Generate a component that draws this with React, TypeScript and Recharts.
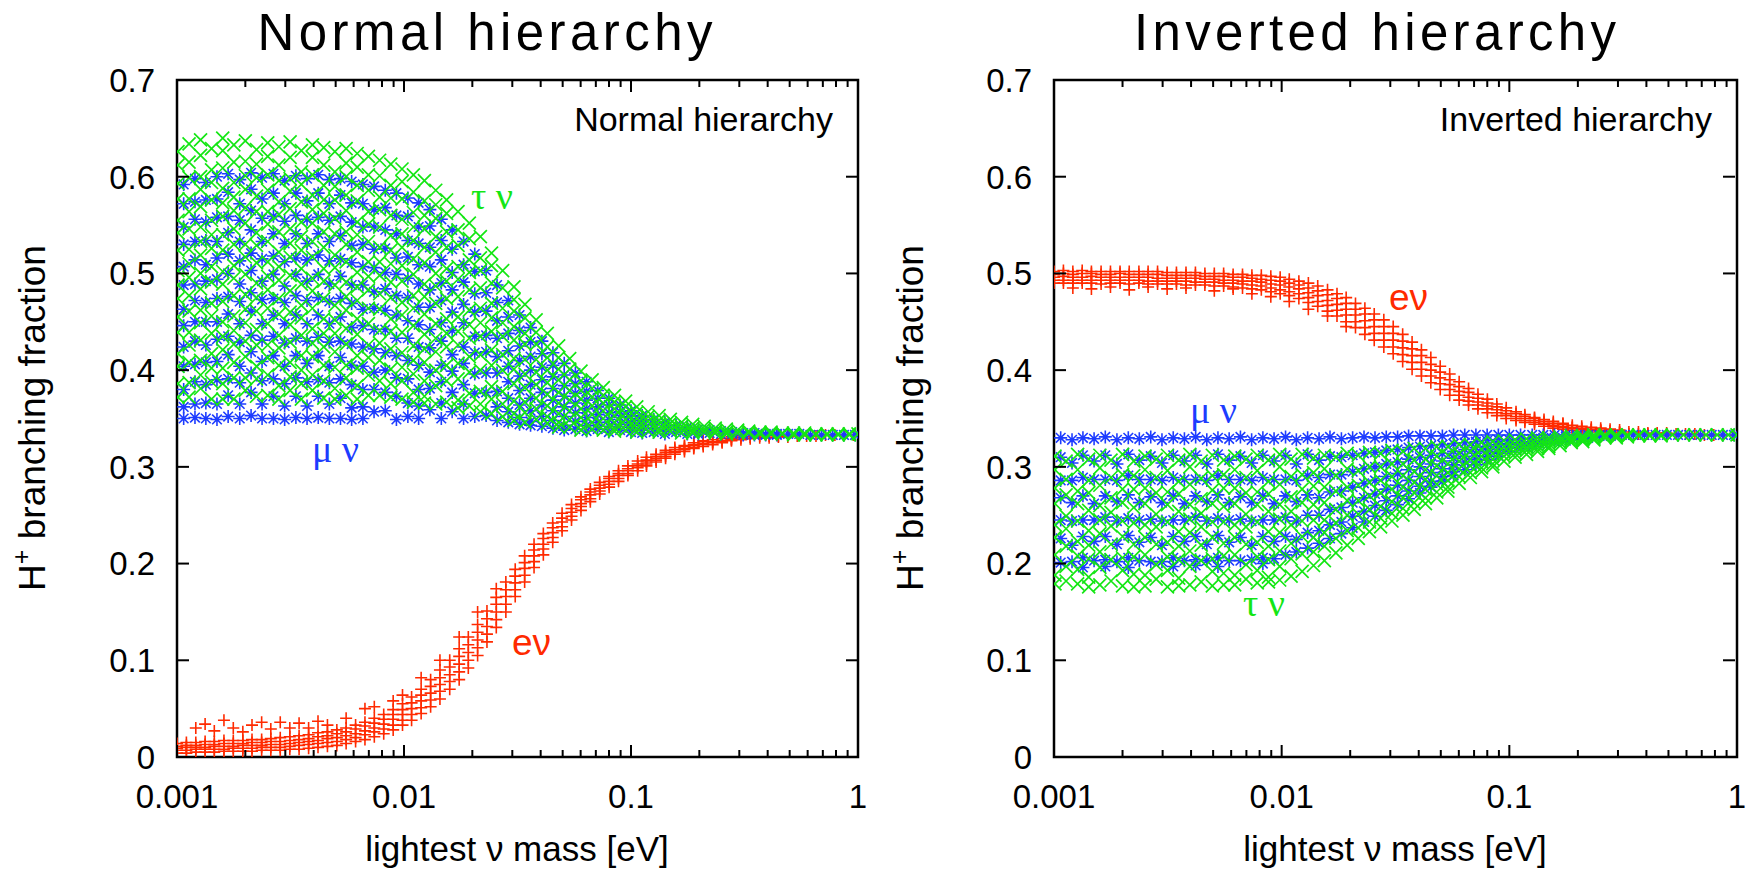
import { ScatterChart, Scatter, XAxis, YAxis, ReferenceArea } from 'recharts';

type Col = [number, number[]];

const RED = '#ff2a00';
const BLUE = '#1d3cff';
const GREEN = '#14e614';
const FONT = '"Liberation Sans", Arial, Helvetica, sans-serif';
const SERIF = '"Liberation Serif", "DejaVu Serif", serif';

// ---------- Normal hierarchy: e nu (red +) ----------
const NH_E: Col[] = [
  [0.001, [0.004, 0.007, 0.009, 0.011, 0.014]], [0.0011, [0.004, 0.007, 0.01, 0.012, 0.015]],
  [0.00121, [0.005, 0.008, 0.01, 0.012, 0.015, 0.03]], [0.00133, [0.005, 0.008, 0.01, 0.013, 0.016, 0.034]],
  [0.00146, [0.005, 0.008, 0.011, 0.013, 0.016, 0.027]], [0.00161, [0.006, 0.008, 0.011, 0.014, 0.017, 0.038]],
  [0.00177, [0.006, 0.009, 0.011, 0.014, 0.017, 0.03]], [0.00195, [0.006, 0.009, 0.012, 0.014, 0.017, 0.026]],
  [0.00214, [0.006, 0.009, 0.012, 0.015, 0.018, 0.033]], [0.00236, [0.007, 0.01, 0.012, 0.015, 0.018, 0.036]],
  [0.00259, [0.007, 0.01, 0.013, 0.016, 0.019, 0.029]], [0.00285, [0.007, 0.01, 0.013, 0.016, 0.02, 0.036]],
  [0.00314, [0.008, 0.011, 0.014, 0.017, 0.021, 0.03]], [0.00345, [0.008, 0.012, 0.015, 0.018, 0.022, 0.035]],
  [0.0038, [0.009, 0.013, 0.016, 0.019, 0.023, 0.03]], [0.00418, [0.01, 0.014, 0.017, 0.021, 0.025, 0.037]],
  [0.0046, [0.011, 0.015, 0.019, 0.022, 0.026, 0.033]], [0.00506, [0.012, 0.016, 0.02, 0.024, 0.028]],
  [0.00556, [0.014, 0.018, 0.022, 0.026, 0.03, 0.04]], [0.00612, [0.016, 0.02, 0.024, 0.029, 0.033]],
  [0.00673, [0.018, 0.023, 0.027, 0.032, 0.036, 0.05]], [0.0074, [0.021, 0.026, 0.03, 0.035, 0.04, 0.052]],
  [0.00814, [0.024, 0.029, 0.034, 0.039, 0.044]], [0.00896, [0.028, 0.033, 0.039, 0.044, 0.049, 0.058]],
  [0.00985, [0.033, 0.038, 0.044, 0.049, 0.055, 0.064]], [0.0108, [0.038, 0.044, 0.05, 0.056, 0.062]],
  [0.0119, [0.045, 0.051, 0.058, 0.064, 0.07, 0.082]], [0.0131, [0.052, 0.059, 0.066, 0.073, 0.08]],
  [0.0144, [0.06, 0.068, 0.075, 0.082, 0.09, 0.1]], [0.0159, [0.07, 0.078, 0.085, 0.093, 0.1]],
  [0.0175, [0.08, 0.088, 0.096, 0.104, 0.112, 0.124]], [0.0192, [0.092, 0.1, 0.108, 0.116, 0.124]],
  [0.0211, [0.105, 0.113, 0.121, 0.129, 0.137, 0.15]], [0.0232, [0.119, 0.127, 0.135, 0.143, 0.151]],
  [0.0255, [0.134, 0.142, 0.15, 0.158, 0.165, 0.174]], [0.0281, [0.15, 0.158, 0.166, 0.173, 0.181]],
  [0.0309, [0.166, 0.173, 0.18, 0.187, 0.194]], [0.034, [0.181, 0.188, 0.195, 0.201, 0.208]],
  [0.0374, [0.196, 0.202, 0.208, 0.214, 0.22]], [0.0411, [0.209, 0.215, 0.22, 0.226, 0.231]],
  [0.0452, [0.222, 0.227, 0.232, 0.237, 0.242]], [0.0497, [0.234, 0.238, 0.243, 0.247, 0.252]],
  [0.0547, [0.245, 0.249, 0.253, 0.257, 0.261]], [0.0602, [0.255, 0.259, 0.262, 0.266, 0.269]],
  [0.0662, [0.264, 0.267, 0.271, 0.274, 0.277]], [0.0728, [0.272, 0.275, 0.278, 0.281, 0.284]],
  [0.0801, [0.279, 0.282, 0.285, 0.288, 0.29]], [0.0881, [0.285, 0.288, 0.291, 0.293, 0.296]],
  [0.0969, [0.291, 0.293, 0.296, 0.298, 0.301]], [0.107, [0.296, 0.299, 0.301, 0.303, 0.306]],
  [0.117, [0.301, 0.303, 0.305, 0.307, 0.31]], [0.129, [0.305, 0.307, 0.309, 0.311, 0.313]],
  [0.142, [0.309, 0.311, 0.313, 0.315, 0.317]], [0.156, [0.313, 0.315, 0.316, 0.318, 0.32]],
  [0.172, [0.316, 0.318, 0.319, 0.321, 0.322]], [0.189, [0.319, 0.32, 0.322, 0.323, 0.325]],
  [0.208, [0.321, 0.323, 0.324, 0.326, 0.327]], [0.229, [0.323, 0.325, 0.326, 0.328]],
  [0.252, [0.325, 0.326, 0.327, 0.329]], [0.277, [0.327, 0.328, 0.329, 0.331]], [0.305, [0.328, 0.33, 0.332]],
  [0.335, [0.329, 0.331]], [0.369, [0.33, 0.332]], [0.406, [0.33, 0.332]], [0.446, [0.331, 0.332]],
  [0.491, [0.331, 0.333]], [0.54, [0.332]], [0.594, [0.332]], [0.653, [0.332]], [0.719, [0.333]],
  [0.791, [0.333]], [0.87, [0.333]], [0.957, [0.333]],
];

// ---------- Normal hierarchy: mu nu (blue *) ----------
const NH_MU: Col[] = [
  [0.00107, [0.592, 0.572, 0.548, 0.53, 0.507, 0.488, 0.463, 0.446, 0.424, 0.404, 0.38, 0.362, 0.35]],
  [0.0012, [0.598, 0.574, 0.556, 0.533, 0.514, 0.489, 0.472, 0.45, 0.43, 0.406, 0.388, 0.365, 0.351]],
  [0.00134, [0.594, 0.576, 0.553, 0.534, 0.509, 0.492, 0.47, 0.45, 0.426, 0.408, 0.385, 0.366, 0.35]],
  [0.0015, [0.6, 0.577, 0.558, 0.533, 0.516, 0.494, 0.474, 0.45, 0.432, 0.409, 0.39, 0.365, 0.349]],
  [0.00168, [0.603, 0.584, 0.559, 0.542, 0.52, 0.5, 0.476, 0.458, 0.435, 0.416, 0.391, 0.374, 0.352]],
  [0.00189, [0.597, 0.572, 0.555, 0.533, 0.513, 0.489, 0.471, 0.448, 0.429, 0.404, 0.387, 0.365, 0.35]],
  [0.00212, [0.604, 0.587, 0.565, 0.545, 0.521, 0.503, 0.48, 0.461, 0.436, 0.419, 0.397, 0.377, 0.353]],
  [0.00237, [0.599, 0.577, 0.557, 0.533, 0.515, 0.492, 0.473, 0.448, 0.431, 0.409, 0.389, 0.365, 0.35]],
  [0.00266, [0.603, 0.583, 0.559, 0.541, 0.518, 0.499, 0.474, 0.457, 0.435, 0.415, 0.391, 0.373, 0.35]],
  [0.00298, [0.596, 0.572, 0.554, 0.531, 0.512, 0.487, 0.47, 0.448, 0.428, 0.404, 0.386, 0.363, 0.349]],
  [0.00334, [0.601, 0.583, 0.56, 0.541, 0.516, 0.499, 0.477, 0.457, 0.433, 0.415, 0.392, 0.373, 0.351]],
  [0.00374, [0.598, 0.575, 0.556, 0.531, 0.514, 0.492, 0.472, 0.448, 0.43, 0.407, 0.388, 0.363, 0.35]],
  [0.00419, [0.602, 0.583, 0.558, 0.541, 0.519, 0.499, 0.475, 0.457, 0.434, 0.415, 0.39, 0.373, 0.351]],
  [0.00469, [0.597, 0.572, 0.555, 0.533, 0.513, 0.489, 0.471, 0.448, 0.429, 0.404, 0.387, 0.365, 0.35]],
  [0.00525, [0.598, 0.581, 0.559, 0.539, 0.515, 0.497, 0.474, 0.455, 0.43, 0.413, 0.391, 0.371, 0.35]],
  [0.00588, [0.595, 0.573, 0.553, 0.529, 0.511, 0.488, 0.469, 0.444, 0.427, 0.405, 0.385, 0.361, 0.349]],
  [0.00659, [0.592, 0.572, 0.548, 0.53, 0.507, 0.488, 0.463, 0.446, 0.424, 0.404, 0.38, 0.362, 0.35]],
  [0.00738, [0.59, 0.566, 0.548, 0.525, 0.506, 0.481, 0.464, 0.442, 0.422, 0.398, 0.38, 0.357]],
  [0.00827, [0.586, 0.568, 0.545, 0.526, 0.501, 0.484, 0.462, 0.442, 0.418, 0.4, 0.377, 0.358]],
  [0.00926, [0.583, 0.56, 0.541, 0.516, 0.499, 0.477, 0.457, 0.433, 0.415, 0.392, 0.373, 0.349]],
  [0.0104, [0.578, 0.559, 0.534, 0.517, 0.495, 0.475, 0.451, 0.433, 0.41, 0.391, 0.366, 0.352]],
  [0.0116, [0.573, 0.548, 0.531, 0.509, 0.489, 0.465, 0.447, 0.424, 0.405, 0.38, 0.363, 0.35]],
  [0.013, [0.566, 0.549, 0.527, 0.507, 0.483, 0.465, 0.442, 0.423, 0.398, 0.381, 0.359]],
  [0.0146, [0.556, 0.534, 0.514, 0.49, 0.472, 0.449, 0.43, 0.405, 0.388, 0.366, 0.35]],
  [0.0163, [0.545, 0.525, 0.501, 0.483, 0.46, 0.441, 0.416, 0.399, 0.377, 0.357]],
  [0.0183, [0.533, 0.509, 0.491, 0.468, 0.449, 0.424, 0.407, 0.385, 0.365, 0.35]],
  [0.0205, [0.52, 0.502, 0.479, 0.46, 0.435, 0.418, 0.396, 0.376, 0.352]],
  [0.023, [0.503, 0.48, 0.461, 0.436, 0.419, 0.397, 0.377, 0.353]],
  [0.0257, [0.488, 0.47, 0.451, 0.433, 0.414, 0.397, 0.378, 0.362, 0.348]],
  [0.0288, [0.472, 0.455, 0.438, 0.42, 0.404, 0.388, 0.371, 0.357, 0.346]],
  [0.0323, [0.457, 0.441, 0.425, 0.41, 0.394, 0.379, 0.364, 0.351, 0.344]],
  [0.0361, [0.444, 0.429, 0.414, 0.4, 0.385, 0.371, 0.358, 0.347, 0.343]],
  [0.0405, [0.43, 0.417, 0.403, 0.39, 0.377, 0.364, 0.352, 0.342]],
  [0.0453, [0.418, 0.405, 0.393, 0.381, 0.369, 0.358, 0.348, 0.34]],
  [0.0508, [0.407, 0.395, 0.384, 0.373, 0.362, 0.352, 0.343, 0.338]],
  [0.0569, [0.397, 0.386, 0.376, 0.366, 0.356, 0.347, 0.339]],
  [0.0637, [0.388, 0.378, 0.369, 0.36, 0.351, 0.343, 0.337]],
  [0.0713, [0.379, 0.371, 0.362, 0.354, 0.346, 0.339]],
  [0.0799, [0.371, 0.364, 0.356, 0.349, 0.342, 0.336]],
  [0.0895, [0.364, 0.357, 0.351, 0.344, 0.338]],
  [0.1, [0.358, 0.352, 0.346, 0.341, 0.336]],
  [0.112, [0.353, 0.348, 0.343, 0.338, 0.335]],
  [0.126, [0.349, 0.344, 0.34, 0.336]], [0.141, [0.346, 0.341, 0.337, 0.334]], [0.158, [0.343, 0.339, 0.336]],
  [0.177, [0.341, 0.337, 0.334]], [0.198, [0.339, 0.336, 0.334]], [0.222, [0.338, 0.335]], [0.249, [0.337, 0.334]],
  [0.279, [0.336, 0.334]], [0.312, [0.335, 0.333]], [0.35, [0.335, 0.333]], [0.392, [0.334, 0.333]],
  [0.439, [0.334, 0.333]], [0.492, [0.334]], [0.551, [0.334]], [0.617, [0.333]], [0.691, [0.333]],
  [0.774, [0.333]], [0.867, [0.333]], [0.97, [0.333]],
];

// ---------- Normal hierarchy: tau nu (green x) ----------
const NH_TAU: Col[] = [
  [0.00101, [0.626, 0.612, 0.593, 0.577, 0.555, 0.542, 0.524, 0.503, 0.488, 0.474, 0.455, 0.439, 0.417, 0.404, 0.386, 0.372]],
  [0.00113, [0.634, 0.615, 0.599, 0.577, 0.564, 0.546, 0.525, 0.51, 0.496, 0.477, 0.461, 0.439, 0.426, 0.408, 0.387, 0.372]],
  [0.00127, [0.638, 0.622, 0.6, 0.587, 0.569, 0.548, 0.533, 0.519, 0.5, 0.484, 0.462, 0.449, 0.431, 0.41, 0.395, 0.381]],
  [0.00142, [0.629, 0.607, 0.594, 0.576, 0.555, 0.54, 0.526, 0.507, 0.491, 0.469, 0.456, 0.438, 0.417, 0.402, 0.388, 0.37]],
  [0.00159, [0.64, 0.627, 0.609, 0.588, 0.573, 0.559, 0.54, 0.524, 0.502, 0.489, 0.471, 0.45, 0.435, 0.421, 0.402, 0.386, 0.37]],
  [0.00178, [0.633, 0.615, 0.594, 0.579, 0.565, 0.546, 0.53, 0.508, 0.495, 0.477, 0.456, 0.441, 0.427, 0.408, 0.392, 0.37]],
  [0.002, [0.637, 0.616, 0.601, 0.587, 0.568, 0.552, 0.53, 0.517, 0.499, 0.478, 0.463, 0.449, 0.43, 0.414, 0.392, 0.379]],
  [0.00224, [0.628, 0.613, 0.599, 0.58, 0.564, 0.542, 0.529, 0.511, 0.49, 0.475, 0.461, 0.442, 0.426, 0.404, 0.391, 0.373]],
  [0.00251, [0.635, 0.621, 0.602, 0.586, 0.564, 0.551, 0.533, 0.512, 0.497, 0.483, 0.464, 0.448, 0.426, 0.413, 0.395, 0.374]],
  [0.00281, [0.631, 0.612, 0.596, 0.574, 0.561, 0.543, 0.522, 0.507, 0.493, 0.474, 0.458, 0.436, 0.423, 0.405, 0.384, 0.37]],
  [0.00315, [0.636, 0.62, 0.598, 0.585, 0.567, 0.546, 0.531, 0.517, 0.498, 0.482, 0.46, 0.447, 0.429, 0.408, 0.393, 0.379]],
  [0.00353, [0.627, 0.605, 0.592, 0.574, 0.553, 0.538, 0.524, 0.505, 0.489, 0.467, 0.454, 0.436, 0.415, 0.4, 0.386, 0.37]],
  [0.00395, [0.633, 0.62, 0.602, 0.581, 0.566, 0.552, 0.533, 0.517, 0.495, 0.482, 0.464, 0.443, 0.428, 0.414, 0.395, 0.379]],
  [0.00443, [0.63, 0.612, 0.591, 0.576, 0.562, 0.543, 0.527, 0.505, 0.492, 0.474, 0.453, 0.438, 0.424, 0.405, 0.389, 0.371]],
  [0.00496, [0.626, 0.605, 0.59, 0.576, 0.557, 0.541, 0.519, 0.506, 0.488, 0.467, 0.452, 0.438, 0.419, 0.403, 0.381, 0.37]],
  [0.00556, [0.629, 0.614, 0.6, 0.581, 0.565, 0.543, 0.53, 0.512, 0.491, 0.476, 0.462, 0.443, 0.427, 0.405, 0.392, 0.374]],
  [0.00622, [0.624, 0.61, 0.591, 0.575, 0.553, 0.54, 0.522, 0.501, 0.486, 0.472, 0.453, 0.437, 0.415, 0.402, 0.384, 0.37]],
  [0.00697, [0.621, 0.602, 0.586, 0.564, 0.551, 0.533, 0.512, 0.497, 0.483, 0.464, 0.448, 0.426, 0.413, 0.395, 0.374]],
  [0.00781, [0.617, 0.601, 0.579, 0.566, 0.548, 0.527, 0.512, 0.498, 0.479, 0.463, 0.441, 0.428, 0.41, 0.389, 0.374]],
  [0.00875, [0.613, 0.591, 0.578, 0.56, 0.539, 0.524, 0.51, 0.491, 0.475, 0.453, 0.44, 0.422, 0.401, 0.386, 0.372]],
  [0.0098, [0.608, 0.595, 0.577, 0.556, 0.541, 0.527, 0.508, 0.492, 0.47, 0.457, 0.439, 0.418, 0.403, 0.389, 0.37]],
  [0.011, [0.602, 0.584, 0.563, 0.548, 0.534, 0.515, 0.499, 0.477, 0.464, 0.446, 0.425, 0.41, 0.396, 0.377, 0.367]],
  [0.0123, [0.596, 0.575, 0.56, 0.546, 0.527, 0.511, 0.489, 0.476, 0.458, 0.437, 0.422, 0.408, 0.389, 0.373, 0.366]],
  [0.0138, [0.586, 0.571, 0.557, 0.538, 0.522, 0.5, 0.487, 0.469, 0.448, 0.433, 0.419, 0.4, 0.384, 0.365]],
  [0.0154, [0.576, 0.562, 0.543, 0.527, 0.505, 0.492, 0.474, 0.453, 0.438, 0.424, 0.405, 0.389, 0.367]],
  [0.0173, [0.564, 0.545, 0.529, 0.507, 0.494, 0.476, 0.455, 0.44, 0.426, 0.407, 0.391, 0.369, 0.361]],
  [0.0194, [0.552, 0.536, 0.514, 0.501, 0.483, 0.462, 0.447, 0.433, 0.414, 0.398, 0.376, 0.363]],
  [0.0217, [0.538, 0.516, 0.503, 0.485, 0.464, 0.449, 0.435, 0.416, 0.4, 0.378, 0.365, 0.357]],
  [0.0243, [0.521, 0.508, 0.49, 0.469, 0.454, 0.44, 0.421, 0.405, 0.383, 0.37, 0.355]],
  [0.0272, [0.503, 0.485, 0.464, 0.449, 0.435, 0.416, 0.4, 0.378, 0.365, 0.352]],
  [0.0305, [0.486, 0.473, 0.461, 0.445, 0.431, 0.412, 0.401, 0.386, 0.368, 0.355, 0.348]],
  [0.0341, [0.468, 0.454, 0.438, 0.427, 0.411, 0.396, 0.382, 0.367, 0.356, 0.346]],
  [0.0382, [0.452, 0.439, 0.427, 0.411, 0.398, 0.385, 0.371, 0.36, 0.349]],
  [0.0428, [0.438, 0.424, 0.413, 0.4, 0.387, 0.375, 0.363, 0.352, 0.345]],
  [0.048, [0.425, 0.413, 0.401, 0.39, 0.377, 0.366, 0.355, 0.346, 0.341]],
  [0.0537, [0.412, 0.401, 0.39, 0.379, 0.369, 0.358, 0.349, 0.341]],
  [0.0602, [0.399, 0.389, 0.379, 0.37, 0.36, 0.351, 0.343, 0.338]],
  [0.0674, [0.39, 0.381, 0.372, 0.363, 0.354, 0.346, 0.339]],
  [0.0755, [0.382, 0.374, 0.366, 0.358, 0.35, 0.343, 0.338]],
  [0.0846, [0.374, 0.367, 0.36, 0.353, 0.346, 0.34, 0.337]],
  [0.0947, [0.368, 0.362, 0.355, 0.349, 0.343, 0.338]],
  [0.106, [0.362, 0.356, 0.35, 0.345, 0.34, 0.336]],
  [0.119, [0.357, 0.352, 0.347, 0.342, 0.337]],
  [0.133, [0.353, 0.348, 0.344, 0.339, 0.336]],
  [0.149, [0.349, 0.345, 0.341, 0.337]], [0.167, [0.346, 0.342, 0.339, 0.335]], [0.187, [0.344, 0.34, 0.337, 0.335]],
  [0.21, [0.342, 0.339, 0.336]], [0.235, [0.34, 0.337, 0.335]], [0.263, [0.339, 0.336, 0.334]],
  [0.295, [0.338, 0.335]], [0.33, [0.337, 0.335]], [0.37, [0.336, 0.334]], [0.414, [0.336, 0.334]],
  [0.464, [0.335, 0.334]], [0.52, [0.335, 0.333]], [0.582, [0.335, 0.333]], [0.652, [0.334, 0.333]],
  [0.73, [0.334, 0.333]], [0.818, [0.334, 0.333]], [0.916, [0.334, 0.333]], [1.0, [0.334]],
];

// ---------- Inverted hierarchy: e nu (red +) ----------
const IH_E: Col[] = [
  [0.001, [0.49, 0.493, 0.496, 0.499, 0.502]], [0.0011, [0.49, 0.493, 0.497, 0.5, 0.503]],
  [0.00121, [0.49, 0.493, 0.496, 0.499, 0.502, 0.485]], [0.00133, [0.49, 0.493, 0.496, 0.5, 0.503]],
  [0.00146, [0.49, 0.493, 0.497, 0.5, 0.502, 0.484]], [0.00161, [0.489, 0.493, 0.496, 0.499, 0.502]],
  [0.00177, [0.49, 0.493, 0.496, 0.499, 0.502, 0.486]], [0.00195, [0.49, 0.493, 0.496, 0.5, 0.502]],
  [0.00214, [0.489, 0.493, 0.496, 0.499, 0.502, 0.483]], [0.00236, [0.49, 0.493, 0.496, 0.499, 0.502]],
  [0.00259, [0.489, 0.492, 0.496, 0.499, 0.502, 0.486]], [0.00285, [0.489, 0.492, 0.495, 0.499, 0.502]],
  [0.00314, [0.489, 0.492, 0.495, 0.498, 0.501, 0.484]], [0.00345, [0.489, 0.492, 0.495, 0.498, 0.501]],
  [0.0038, [0.488, 0.492, 0.495, 0.498, 0.501, 0.485]], [0.00418, [0.488, 0.491, 0.495, 0.498, 0.501]],
  [0.0046, [0.488, 0.491, 0.494, 0.497, 0.5]], [0.00506, [0.487, 0.491, 0.494, 0.497, 0.5, 0.482]],
  [0.00556, [0.487, 0.49, 0.493, 0.497, 0.5]], [0.00612, [0.486, 0.49, 0.493, 0.496, 0.499, 0.484]],
  [0.00673, [0.485, 0.489, 0.492, 0.496, 0.499]], [0.0074, [0.484, 0.488, 0.492, 0.495, 0.498, 0.479]],
  [0.00814, [0.483, 0.487, 0.491, 0.494, 0.498]], [0.00896, [0.481, 0.485, 0.489, 0.493, 0.497, 0.476]],
  [0.00985, [0.479, 0.483, 0.488, 0.492, 0.496]], [0.0108, [0.477, 0.481, 0.486, 0.49, 0.494, 0.471]],
  [0.0119, [0.474, 0.479, 0.484, 0.488, 0.492]], [0.0131, [0.47, 0.475, 0.48, 0.485, 0.49, 0.463]],
  [0.0144, [0.466, 0.471, 0.477, 0.482, 0.487]], [0.0159, [0.461, 0.467, 0.472, 0.478, 0.483, 0.456]],
  [0.0175, [0.456, 0.462, 0.468, 0.474, 0.479]], [0.0192, [0.45, 0.457, 0.463, 0.469, 0.475, 0.445]],
  [0.0211, [0.444, 0.45, 0.457, 0.463, 0.469]], [0.0232, [0.437, 0.444, 0.451, 0.458, 0.464]],
  [0.0255, [0.431, 0.438, 0.445, 0.452, 0.458]], [0.0281, [0.424, 0.431, 0.438, 0.445, 0.452]],
  [0.0309, [0.417, 0.424, 0.431, 0.438, 0.445]], [0.034, [0.409, 0.416, 0.423, 0.43, 0.437]],
  [0.0374, [0.401, 0.408, 0.415, 0.422, 0.429]], [0.0411, [0.394, 0.401, 0.408, 0.415, 0.421]],
  [0.0452, [0.387, 0.394, 0.4, 0.406, 0.413]], [0.0497, [0.38, 0.386, 0.392, 0.398, 0.404]],
  [0.0547, [0.374, 0.38, 0.385, 0.39, 0.396]], [0.0602, [0.369, 0.374, 0.378, 0.383, 0.388]],
  [0.0662, [0.364, 0.368, 0.372, 0.377, 0.381]], [0.0728, [0.36, 0.364, 0.367, 0.371, 0.375]],
  [0.0801, [0.356, 0.36, 0.363, 0.366, 0.37]], [0.0881, [0.353, 0.356, 0.359, 0.362, 0.365]],
  [0.0969, [0.35, 0.353, 0.355, 0.358, 0.361]], [0.107, [0.348, 0.35, 0.352, 0.355, 0.357]],
  [0.117, [0.346, 0.348, 0.35, 0.352, 0.354]], [0.129, [0.344, 0.346, 0.348, 0.35, 0.351]],
  [0.142, [0.342, 0.344, 0.345, 0.347, 0.349]], [0.156, [0.34, 0.342, 0.343, 0.345, 0.347]],
  [0.172, [0.339, 0.341, 0.342, 0.344, 0.345]], [0.189, [0.338, 0.34, 0.341, 0.343]],
  [0.208, [0.337, 0.339, 0.34, 0.342]], [0.229, [0.336, 0.338, 0.339, 0.341]],
  [0.252, [0.336, 0.337, 0.338, 0.34]], [0.277, [0.335, 0.337, 0.339]], [0.305, [0.335, 0.336, 0.338]],
  [0.335, [0.334, 0.336]], [0.369, [0.334, 0.336]], [0.406, [0.334, 0.335]], [0.446, [0.334, 0.335]],
  [0.491, [0.333, 0.335]], [0.54, [0.334]], [0.594, [0.334]], [0.653, [0.334]], [0.719, [0.333]],
  [0.791, [0.333]], [0.87, [0.333]], [0.957, [0.333]],
];

// ---------- Inverted hierarchy: mu nu (blue *) ----------
const IH_MU: Col[] = [
  [0.00107, [0.33, 0.31, 0.286, 0.268, 0.245, 0.226, 0.201]],
  [0.0012, [0.328, 0.304, 0.286, 0.263, 0.244, 0.219, 0.202]],
  [0.00134, [0.33, 0.312, 0.289, 0.27, 0.245, 0.228, 0.206, 0.196]],
  [0.0015, [0.329, 0.306, 0.287, 0.262, 0.245, 0.223, 0.203]],
  [0.00168, [0.331, 0.312, 0.287, 0.27, 0.248, 0.228, 0.204, 0.197]],
  [0.00189, [0.328, 0.303, 0.286, 0.264, 0.244, 0.22, 0.202]],
  [0.00212, [0.33, 0.313, 0.291, 0.271, 0.247, 0.229, 0.206, 0.196]],
  [0.00237, [0.329, 0.307, 0.287, 0.263, 0.245, 0.222, 0.203]],
  [0.00266, [0.331, 0.311, 0.287, 0.269, 0.246, 0.227, 0.202]],
  [0.00298, [0.328, 0.304, 0.286, 0.263, 0.244, 0.219, 0.202]],
  [0.00334, [0.33, 0.312, 0.289, 0.27, 0.245, 0.228, 0.206, 0.197]],
  [0.00374, [0.329, 0.306, 0.287, 0.262, 0.245, 0.223, 0.203]],
  [0.00419, [0.331, 0.312, 0.287, 0.27, 0.248, 0.228, 0.204, 0.198]],
  [0.00469, [0.328, 0.303, 0.286, 0.264, 0.244, 0.22, 0.203]],
  [0.00525, [0.33, 0.313, 0.291, 0.271, 0.247, 0.229, 0.206, 0.197]],
  [0.00588, [0.329, 0.307, 0.287, 0.263, 0.245, 0.222, 0.203]],
  [0.00659, [0.331, 0.311, 0.287, 0.269, 0.246, 0.227, 0.203]],
  [0.00738, [0.328, 0.304, 0.286, 0.263, 0.244, 0.219, 0.204]],
  [0.00827, [0.33, 0.312, 0.289, 0.27, 0.245, 0.228, 0.206, 0.2]],
  [0.00926, [0.329, 0.306, 0.287, 0.262, 0.245, 0.223, 0.205]],
  [0.0104, [0.331, 0.312, 0.287, 0.27, 0.248, 0.228, 0.209]],
  [0.0116, [0.328, 0.303, 0.286, 0.264, 0.244, 0.225, 0.212]],
  [0.013, [0.33, 0.313, 0.291, 0.271, 0.25, 0.232, 0.216]],
  [0.0146, [0.329, 0.307, 0.289, 0.268, 0.25, 0.234, 0.221]],
  [0.0163, [0.331, 0.311, 0.292, 0.274, 0.256, 0.24, 0.226]],
  [0.0183, [0.329, 0.31, 0.292, 0.275, 0.258, 0.243, 0.231]],
  [0.0205, [0.33, 0.312, 0.295, 0.279, 0.263, 0.249, 0.237]],
  [0.023, [0.331, 0.314, 0.298, 0.283, 0.268, 0.254, 0.243]],
  [0.0257, [0.33, 0.315, 0.3, 0.286, 0.272, 0.26, 0.249]],
  [0.0288, [0.331, 0.317, 0.303, 0.29, 0.277, 0.265, 0.255]],
  [0.0323, [0.331, 0.318, 0.305, 0.293, 0.281, 0.27, 0.261]],
  [0.0361, [0.332, 0.32, 0.308, 0.297, 0.286, 0.275, 0.267]],
  [0.0405, [0.332, 0.321, 0.31, 0.3, 0.29, 0.28, 0.273]],
  [0.0453, [0.332, 0.322, 0.312, 0.303, 0.294, 0.285, 0.279]],
  [0.0508, [0.332, 0.323, 0.314, 0.306, 0.298, 0.29, 0.285]],
  [0.0569, [0.333, 0.324, 0.316, 0.309, 0.302, 0.295, 0.291]],
  [0.0637, [0.333, 0.325, 0.318, 0.311, 0.305, 0.297]],
  [0.0713, [0.333, 0.326, 0.32, 0.314, 0.308, 0.302]],
  [0.0799, [0.333, 0.327, 0.321, 0.316, 0.311, 0.307]],
  [0.0895, [0.333, 0.328, 0.323, 0.318, 0.314, 0.311]],
  [0.1, [0.333, 0.328, 0.324, 0.32, 0.316]], [0.112, [0.333, 0.329, 0.325, 0.322, 0.319]],
  [0.126, [0.333, 0.329, 0.326, 0.323, 0.321]], [0.141, [0.333, 0.33, 0.327, 0.324]],
  [0.158, [0.333, 0.33, 0.328, 0.326]], [0.177, [0.333, 0.331, 0.329, 0.327]], [0.198, [0.333, 0.331, 0.329]],
  [0.222, [0.333, 0.331, 0.33]], [0.249, [0.333, 0.332]], [0.279, [0.333, 0.332]], [0.312, [0.333]],
  [0.35, [0.333]], [0.392, [0.333]], [0.439, [0.333]], [0.492, [0.333]], [0.551, [0.333]], [0.617, [0.333]],
  [0.691, [0.333]], [0.774, [0.333]], [0.867, [0.333]], [0.97, [0.333]],
];

// ---------- Inverted hierarchy: tau nu (green x) ----------
const IH_TAU: Col[] = [
  [0.00101, [0.311, 0.297, 0.278, 0.262, 0.24, 0.227, 0.209, 0.188, 0.179]],
  [0.00113, [0.306, 0.287, 0.271, 0.249, 0.236, 0.218, 0.197, 0.182]],
  [0.00127, [0.313, 0.297, 0.275, 0.262, 0.244, 0.223, 0.208, 0.194, 0.179]],
  [0.00142, [0.308, 0.286, 0.273, 0.255, 0.234, 0.219, 0.205, 0.186, 0.176]],
  [0.00159, [0.312, 0.299, 0.281, 0.26, 0.245, 0.231, 0.212, 0.196, 0.178]],
  [0.00178, [0.307, 0.289, 0.268, 0.253, 0.239, 0.22, 0.204, 0.182]],
  [0.002, [0.313, 0.292, 0.277, 0.263, 0.244, 0.228, 0.206, 0.193, 0.177]],
  [0.00224, [0.306, 0.291, 0.277, 0.258, 0.242, 0.22, 0.207, 0.189, 0.176]],
  [0.00251, [0.311, 0.297, 0.278, 0.262, 0.24, 0.227, 0.209, 0.188, 0.177]],
  [0.00281, [0.308, 0.289, 0.273, 0.251, 0.238, 0.22, 0.199, 0.184]],
  [0.00315, [0.312, 0.296, 0.274, 0.261, 0.243, 0.222, 0.207, 0.193, 0.176]],
  [0.00353, [0.307, 0.285, 0.272, 0.254, 0.233, 0.218, 0.204, 0.185, 0.177]],
  [0.00395, [0.313, 0.3, 0.282, 0.261, 0.246, 0.232, 0.213, 0.197, 0.178]],
  [0.00443, [0.306, 0.288, 0.267, 0.252, 0.238, 0.219, 0.203, 0.181]],
  [0.00496, [0.312, 0.291, 0.276, 0.262, 0.243, 0.227, 0.205, 0.192, 0.177]],
  [0.00556, [0.307, 0.292, 0.278, 0.259, 0.243, 0.221, 0.208, 0.19, 0.178]],
  [0.00622, [0.311, 0.297, 0.278, 0.262, 0.24, 0.227, 0.209, 0.188, 0.178]],
  [0.00697, [0.308, 0.289, 0.273, 0.251, 0.238, 0.22, 0.199, 0.184]],
  [0.00781, [0.312, 0.296, 0.274, 0.261, 0.243, 0.222, 0.207, 0.193, 0.18]],
  [0.00875, [0.307, 0.285, 0.272, 0.254, 0.233, 0.218, 0.204, 0.186, 0.181]],
  [0.0098, [0.313, 0.3, 0.282, 0.261, 0.246, 0.232, 0.213, 0.197, 0.183]],
  [0.011, [0.308, 0.29, 0.269, 0.254, 0.24, 0.221, 0.205, 0.187]],
  [0.0123, [0.313, 0.292, 0.277, 0.263, 0.244, 0.228, 0.21, 0.192]],
  [0.0138, [0.309, 0.294, 0.28, 0.261, 0.245, 0.227, 0.212, 0.198]],
  [0.0154, [0.312, 0.298, 0.279, 0.263, 0.245, 0.232, 0.218, 0.203]],
  [0.0173, [0.31, 0.291, 0.275, 0.256, 0.242, 0.226, 0.211]],
  [0.0194, [0.314, 0.298, 0.279, 0.265, 0.25, 0.234, 0.219]],
  [0.0217, [0.312, 0.296, 0.281, 0.265, 0.251, 0.237, 0.226]],
  [0.0243, [0.315, 0.3, 0.284, 0.27, 0.256, 0.243, 0.233]],
  [0.0272, [0.314, 0.3, 0.286, 0.273, 0.259, 0.247, 0.238]],
  [0.0305, [0.317, 0.303, 0.29, 0.277, 0.264, 0.252, 0.244]],
  [0.0341, [0.316, 0.303, 0.291, 0.279, 0.268, 0.257, 0.25]],
  [0.0382, [0.319, 0.307, 0.295, 0.284, 0.273, 0.263, 0.256]],
  [0.0428, [0.319, 0.308, 0.297, 0.287, 0.277, 0.268, 0.262]],
  [0.048, [0.321, 0.311, 0.301, 0.291, 0.282, 0.274, 0.268]],
  [0.0537, [0.321, 0.312, 0.303, 0.294, 0.286, 0.279, 0.275]],
  [0.0602, [0.323, 0.314, 0.306, 0.298, 0.29, 0.283]],
  [0.0674, [0.323, 0.316, 0.308, 0.301, 0.294, 0.289]],
  [0.0755, [0.325, 0.318, 0.311, 0.305, 0.299, 0.295]],
  [0.0846, [0.326, 0.32, 0.314, 0.308, 0.303, 0.3]],
  [0.0947, [0.327, 0.321, 0.316, 0.311, 0.306]], [0.106, [0.328, 0.323, 0.318, 0.314, 0.31]],
  [0.119, [0.329, 0.324, 0.32, 0.317, 0.313]], [0.133, [0.33, 0.326, 0.322, 0.319, 0.316]],
  [0.149, [0.33, 0.327, 0.324, 0.321, 0.319]], [0.167, [0.331, 0.328, 0.325, 0.322]],
  [0.187, [0.332, 0.329, 0.327, 0.325]], [0.21, [0.332, 0.33, 0.328, 0.326]], [0.235, [0.333, 0.331, 0.329, 0.328]],
  [0.263, [0.333, 0.331, 0.33]], [0.295, [0.333, 0.332, 0.33]], [0.33, [0.333, 0.332, 0.331]],
  [0.37, [0.333, 0.332]], [0.414, [0.333, 0.332]], [0.464, [0.333, 0.332]], [0.52, [0.333]], [0.582, [0.333]],
  [0.652, [0.333]], [0.73, [0.333]], [0.818, [0.333]], [0.916, [0.333]], [1.0, [0.333]],
];

const X_TICKS = [
  0.001, 0.002, 0.003, 0.004, 0.005, 0.006, 0.007, 0.008, 0.009,
  0.01, 0.02, 0.03, 0.04, 0.05, 0.06, 0.07, 0.08, 0.09,
  0.1, 0.2, 0.3, 0.4, 0.5, 0.6, 0.7, 0.8, 0.9, 1,
];
const X_MAJOR = [0.001, 0.01, 0.1, 1];
const X_MAJOR_LABELS = ['0.001', '0.01', '0.1', '1'];
const Y_TICKS = [0, 0.1, 0.2, 0.3, 0.4, 0.5, 0.6, 0.7];
const Y_LABELS = ['0', '0.1', '0.2', '0.3', '0.4', '0.5', '0.6', '0.7'];

const PLOT_W = 681;
const PLOT_H = 677;

const pts = (cols: Col[]) => cols.flatMap(([x, ys]) => ys.map((y) => ({ x, y })));

const plusShape = (p: any) => (
  <path d={`M${p.cx - 6},${p.cy}h12M${p.cx},${p.cy - 6}v12`} stroke={RED} strokeWidth={1.6} fill="none" />
);
const crossShape = (p: any) => (
  <path d={`M${p.cx - 6.5},${p.cy - 6.5}l13,13M${p.cx - 6.5},${p.cy + 6.5}l13,-13`} stroke={GREEN} strokeWidth={1.7} fill="none" />
);
const starShape = (p: any) => (
  <path
    d={`M${p.cx - 6.5},${p.cy}h13M${p.cx},${p.cy - 6.5}v13M${p.cx - 4.8},${p.cy - 4.8}l9.6,9.6M${p.cx - 4.8},${p.cy + 4.8}l9.6,-9.6`}
    stroke={BLUE} strokeWidth={1.6} fill="none"
  />
);

function XTick(props: any) {
  const { x, y, payload } = props;
  const idx = X_MAJOR.findIndex((m) => Math.abs(m - payload.value) < 1e-9);
  const len = idx >= 0 ? 12 : 7;
  return (
    <g>
      <line x1={x} x2={x} y1={y} y2={y - len} stroke="#000" strokeWidth={2} />
      <line x1={x} x2={x} y1={y - PLOT_H} y2={y - PLOT_H + len} stroke="#000" strokeWidth={2} />
      {idx >= 0 && (
        <text x={x} y={y + 51} textAnchor="middle" fontSize={33} fontFamily={FONT} fill="#000">
          {X_MAJOR_LABELS[idx]}
        </text>
      )}
    </g>
  );
}

function YTick(props: any) {
  const { x, y, payload } = props;
  const idx = Y_TICKS.findIndex((t) => Math.abs(t - payload.value) < 1e-9);
  return (
    <g>
      <line x1={x} x2={x + 12} y1={y} y2={y} stroke="#000" strokeWidth={2} />
      <line x1={x + PLOT_W - 12} x2={x + PLOT_W} y1={y} y2={y} stroke="#000" strokeWidth={2} />
      <text x={x - 22} y={y} dy="0.36em" textAnchor="end" fontSize={33} fontFamily={FONT} fill="#000">
        {Y_LABELS[idx]}
      </text>
    </g>
  );
}

function Panel({ e, mu, tau, left, ml, mr }: { e: Col[]; mu: Col[]; tau: Col[]; left: number; ml: number; mr: number }) {
  return (
    <div style={{ position: 'absolute', left, top: 0 }}>
      <ScatterChart width={878} height={871} margin={{ top: 80, right: mr, bottom: 74, left: ml }}>
        <XAxis
          dataKey="x" type="number" scale="log" domain={[0.001, 1]} ticks={X_TICKS} interval={0}
          allowDataOverflow height={40} tickSize={0} tickMargin={0} axisLine={false}
          tick={(p: any) => <XTick {...p} />}
        />
        <YAxis
          dataKey="y" type="number" domain={[0, 0.7]} ticks={Y_TICKS} interval={0}
          allowDataOverflow width={60} tickSize={0} tickMargin={0} axisLine={false}
          tick={(p: any) => <YTick {...p} />}
        />
        <Scatter data={pts(e)} shape={plusShape} isAnimationActive={false} />
        <Scatter data={pts(mu)} shape={starShape} isAnimationActive={false} />
        <Scatter data={pts(tau)} shape={crossShape} isAnimationActive={false} />
        <ReferenceArea x1={0.001} x2={1} y1={0} y2={0.7} fill="none" fillOpacity={0} stroke="#000" strokeWidth={2.5} ifOverflow="visible" />
      </ScatterChart>
    </div>
  );
}

export default function App() {
  const txt = { fontFamily: FONT, fill: '#000' };
  return (
    <div style={{ position: 'absolute', left: 0, top: 0, width: 1756, height: 871, background: '#fff' }}>
      <Panel e={NH_E} mu={NH_MU} tau={NH_TAU} left={0} ml={117} mr={20} />
      <Panel e={IH_E} mu={IH_MU} tau={IH_TAU} left={878} ml={116} mr={19} />
      <svg width={1756} height={871} style={{ position: 'absolute', left: 0, top: 0, pointerEvents: 'none' }}>
        <text x={485} y={50} textAnchor="middle" fontSize={51} textLength={455} lengthAdjust="spacing" {...txt}>Normal hierarchy</text>
        <text x={1375} y={50} textAnchor="middle" fontSize={51} textLength={482} lengthAdjust="spacing" {...txt}>Inverted hierarchy</text>

        <text x={833} y={131} textAnchor="end" fontSize={34} {...txt}>Normal hierarchy</text>
        <text x={1712} y={131} textAnchor="end" fontSize={34} {...txt}>Inverted hierarchy</text>

        <text transform="translate(45,418) rotate(-90)" textAnchor="middle" fontSize={37} {...txt}>
          H<tspan dy={-15} fontSize={25}>+</tspan><tspan dy={15}> branching fraction</tspan>
        </text>
        <text transform="translate(923,418) rotate(-90)" textAnchor="middle" fontSize={37} {...txt}>
          H<tspan dy={-15} fontSize={25}>+</tspan><tspan dy={15}> branching fraction</tspan>
        </text>

        <text x={517} y={861} textAnchor="middle" fontSize={35} {...txt}>lightest ν mass [eV]</text>
        <text x={1395} y={861} textAnchor="middle" fontSize={35} {...txt}>lightest ν mass [eV]</text>

        <text x={471} y={209} fontSize={38} fontFamily={SERIF} fill={GREEN}>τ ν</text>
        <text x={312} y={462} fontSize={38} fontFamily={SERIF} fill={BLUE}>μ ν</text>
        <text x={512} y={655} fontSize={37} fontFamily={FONT} fill={RED}>eν</text>

        <text x={1389} y={310} fontSize={37} fontFamily={FONT} fill={RED}>eν</text>
        <text x={1190} y={423} fontSize={38} fontFamily={SERIF} fill={BLUE}>μ ν</text>
        <text x={1243} y={616} fontSize={38} fontFamily={SERIF} fill={GREEN}>τ ν</text>
      </svg>
    </div>
  );
}
